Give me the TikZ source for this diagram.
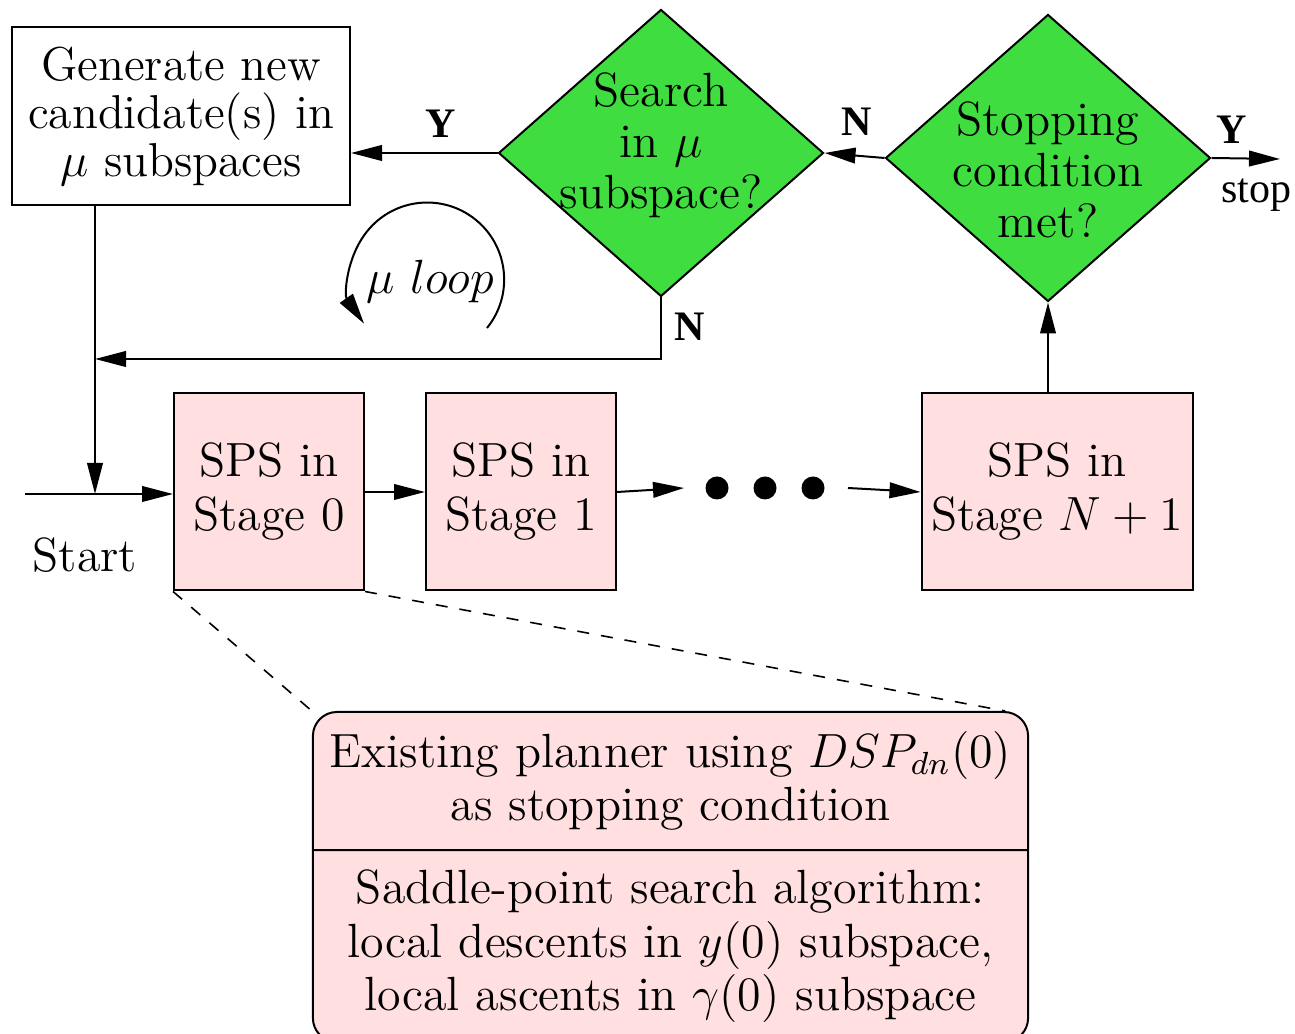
\documentclass[tikz,border=0pt]{standalone}
\usepackage{fontspec}
\usetikzlibrary{shapes.geometric}
\usetikzlibrary{shapes.multipart}
\usetikzlibrary{arrows.meta}
\newfontfamily\timesfont{Liberation Serif}
\definecolor{sps-pink}{HTML}{FFDFE0}
\definecolor{test-green}{HTML}{40DD40}
\tikzset{
  flow-path/.style={line width=0.5pt, -{Triangle[length=7.75pt, width=3.9pt]}},
  plain-box/.style={draw, line width=0.5pt, align=center, inner sep=0pt,
    minimum width=84.5pt, minimum height=44.5pt, font=\fontsize{11.9}{12}\selectfont},
  stage-box/.style={draw, line width=0.5pt, fill=sps-pink, align=center, inner sep=0pt,
    minimum width=47.5pt, minimum height=49.25pt, font=\fontsize{12}{13.5}\selectfont},
  decision-box/.style={diamond, draw, line width=0.5pt, fill=test-green, inner sep=0pt,
    minimum width=81.25pt, minimum height=71.75pt},
  decision-text/.style={align=center, font=\fontsize{12}{12.75}\selectfont},
  answer-label/.style={font=\fontsize{10.5}{12}\timesfont\bfseries},
  stage-dot/.style={circle, fill, inner sep=0pt, minimum size=5.75pt},
}

\begin{document}
\begin{tikzpicture}[x=0.25pt, y=-0.25pt]
\useasboundingbox (0,0) rectangle (1295,1034);

% top row
\node[plain-box] (gen) at (181,116) {Generate new\\candidate(s) in\\$\mu$ subspaces};
\node[decision-box, label={[decision-text, yshift=2pt]center:Search\\in $\mu$\\subspace?}] (search) at (661,153) {};
\node[decision-box, label={[decision-text, yshift=-3pt]center:Stopping\\condition\\met?}] (stop) at (1048,158) {};

% stages
\node[stage-box] (sps0) at (269,492) {SPS in\\Stage 0};
\node[stage-box] (sps1) at (521,492) {SPS in\\Stage 1};
\node[stage-box, minimum width=67.75pt] (spsN) at (1057,492) {SPS in\\Stage $N+1$};
\foreach \x [count=\i] in {717,765,813} {
  \node[stage-dot] (dot\i) at (\x,488) {};
}

% zoomed stage
\node[rectangle split, rectangle split parts=2, draw, line width=0.5pt, fill=sps-pink,
  rounded corners=6pt, text width=177pt, align=center, inner xsep=0.9pt, inner ysep=4.6pt,
  font=\fontsize{12}{13.4}\selectfont, anchor=north] (detail) at (670.5,711)
  {Existing planner using $DSP_{dn}(0)$\\as stopping condition
   \nodepart{two}Saddle-point search algorithm:\\local descents in $y(0)$ subspace,\\local ascents in $\gamma(0)$ subspace};

% helper points
\coordinate (start) at (25,494);
\coordinate (join) at (95,494);
\coordinate (loop-back) at (95,359);
\coordinate (gap-in) at (684,488);
\coordinate (gap-out) at (848,488);
\coordinate (finish) at (1280,159);

% main flow
\draw[flow-path] (start) -- (sps0.west |- start);
\draw[flow-path] (gen.south -| join) -- (join);
\draw[flow-path] (sps0.east) -- (sps1.west);
\draw[flow-path] (sps1.east) -- (gap-in);
\draw[flow-path] (gap-out) -- (spsN.west);
\draw[flow-path] (stop.south |- spsN.north) -- (stop.south);
\draw[flow-path] (stop.west) -- (search.east);
\draw[flow-path] (search.west) -- (gen.east |- search.west);
\draw[flow-path] (search.south) |- (loop-back);
\draw[flow-path] (stop.east) -- (finish);

% mu loop
\draw[flow-path] (487,328) arc[start angle=39, end angle=-215, radius=77];
\node[font=\fontsize{12}{13}\selectfont] (loop-label) at (430,282) {$\mu~loop$};

% zoom lines
\draw[dashed, line width=0.4pt] (sps0.south west) -- (detail.north west);
\draw[dashed, line width=0.4pt] (sps0.south east) -- ([xshift=-6pt]detail.north east);

% labels
\node[font=\fontsize{12}{13}\selectfont] (start-label) at (85,555) {Start};
\node[answer-label] (yes-gen) at (441,124) {Y};
\node[answer-label] (no-search) at (857,122) {N};
\node[answer-label] (no-loop) at (690,327) {N};
\node[answer-label] (yes-stop) at (1232,130) {Y};
\node[font=\fontsize{10.5}{12}\timesfont] (stop-label) at (1256,195) {stop};
\end{tikzpicture}
\end{document}
